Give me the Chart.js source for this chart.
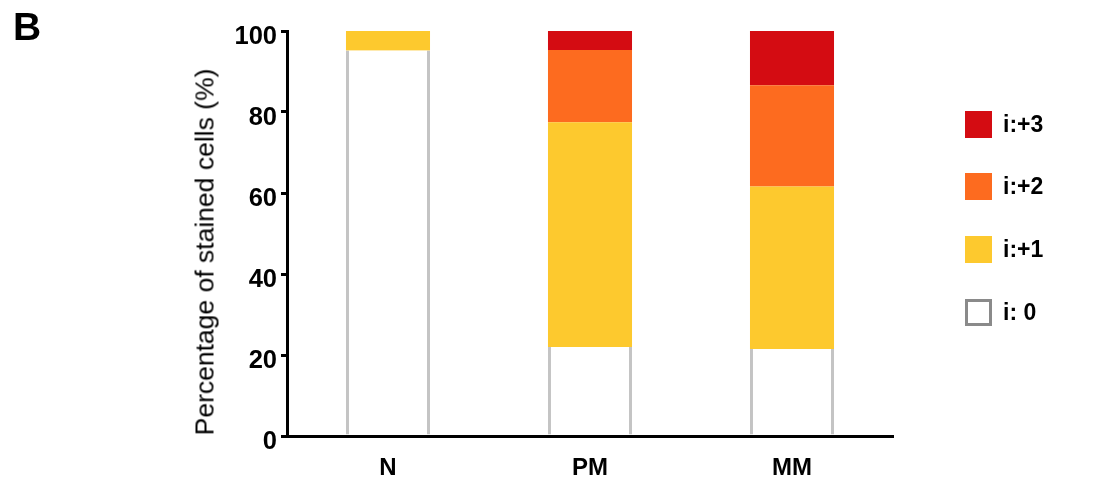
<!DOCTYPE html>
<html>
<head>
<meta charset="utf-8">
<script src="https://cdn.jsdelivr.net/npm/chart.js@4/dist/chart.umd.min.js"></script>
<style>
  html, body { margin:0; padding:0; background:#fff; }
  #wrap { position:relative; width:1097px; height:484px; overflow:hidden; font-family:"Liberation Sans", Arial, sans-serif; }
  #c { position:absolute; left:0; top:0; }
  #panel { position:absolute; left:13px; top:5px; font-weight:bold; font-size:39px; color:#000; }
  #ytitle { position:absolute; left:205px; top:252px; transform:translate(-50%,-50%) rotate(-90deg); white-space:nowrap; font-size:26.5px; color:#000; }
  .lg { position:absolute; left:965px; height:27px; display:flex; align-items:center; }
  .lg .box { width:27px; height:27px; box-sizing:border-box; }
  .lg .txt { margin-left:11px; font-weight:bold; font-size:23px; color:#000; }
</style>
</head>
<body>
<div id="wrap">
  <canvas id="c" width="1097" height="484"></canvas>
  <div id="panel">B</div>
  <div id="ytitle">Percentage of stained cells (%)</div>
  <div id="legend"></div>
</div>
<script>
const categories = ['N', 'PM', 'MM'];
const seriesLabels = ['i: 0', 'i:+1', 'i:+2', 'i:+3'];
const i0 = [95.2, 22.0, 21.5];
const i1 = [4.8, 55.5, 40.1];
const i2 = [0, 17.8, 25.0];
const i3 = [0, 4.7, 13.4];
const yTicks = [0, 20, 40, 60, 80, 100];

const colors = ['#ffffff', '#fdc92e', '#fd6b1f', '#d40c12'];
const seriesData = [i0, i1, i2, i3];

const datasets = seriesData.map((d, k) => ({
  label: seriesLabels[k],
  data: d,
  backgroundColor: colors[k],
  borderColor: k === 0 ? '#c4c4c4' : colors[k],
  borderWidth: k === 0 ? {left:3, right:3, top:0, bottom:0} : 0,
  borderSkipped: false,
  barPercentage: 0.416,
  categoryPercentage: 1.0
}));

new Chart(document.getElementById('c'), {
  type: 'bar',
  data: { labels: categories, datasets },
  options: {
    responsive: false,
    animation: false,
    devicePixelRatio: 1,
    layout: { padding: { left: 0, top: 31, right: 204, bottom: 0 } },
    plugins: { legend: { display: false }, tooltip: { enabled: false } },
    scales: {
      x: {
        stacked: true,
        grid: { display: false },
        border: { display: true, color: '#000', width: 3 },
        ticks: { color: '#000', font: { family: 'Liberation Sans', size: 24, weight: 'bold' }, padding: 10 },
        afterFit: s => { s.height = 48; }
      },
      y: {
        stacked: true,
        min: 0, max: 100,
        afterBuildTicks: s => { s.ticks = yTicks.map(v => ({ value: v })); },
        grid: { display: true, drawOnChartArea: false, drawTicks: true, tickLength: 6, color: '#000', lineWidth: 3 },
        border: { display: true, color: '#000', width: 3 },
        ticks: { color: '#000', font: { family: 'Liberation Sans', size: 25.5, weight: 'bold' }, padding: 4, labelOffset: 6 },
        afterFit: s => { s.width = 287; }
      }
    }
  }
});

// legend (HTML), reversed order
const legendTops = [299, 236, 173, 111];
const lg = document.getElementById('legend');
seriesLabels.forEach((lab, k) => {
  const row = document.createElement('div');
  row.className = 'lg';
  row.style.top = legendTops[k] + 'px';
  const b = document.createElement('div');
  b.className = 'box';
  b.style.background = colors[k];
  if (k === 0) b.style.border = '3px solid #8a8a8a';
  const t = document.createElement('div');
  t.className = 'txt';
  t.textContent = lab;
  row.appendChild(b); row.appendChild(t);
  lg.appendChild(row);
});
</script>
</body>
</html>
